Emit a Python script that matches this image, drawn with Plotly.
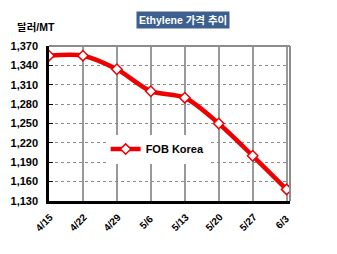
import plotly.graph_objects as go

dates = ["4/15", "4/22", "4/29", "5/6", "5/13", "5/20", "5/27", "6/3"]
fob_korea = [1355, 1355, 1334, 1300, 1290, 1250, 1200, 1148]
y_ticks = [1130, 1160, 1190, 1220, 1250, 1280, 1310, 1340, 1370]

FONT = "Liberation Sans, Arial, Noto Sans CJK KR, sans-serif"

fig = go.Figure()
fig.add_trace(go.Scatter(
    x=dates, y=fob_korea, name="FOB Korea", mode="lines+markers",
    line=dict(color="#ee0000", width=4.5, shape="spline", smoothing=0.8),
    marker=dict(symbol="diamond", size=8, color="white",
                line=dict(color="#ee0000", width=1.5)),
))

annotations = [
    dict(text="Ethylene 가격 추이", xref="paper", yref="paper",
         x=0.558, y=1.168, xanchor="center", yanchor="middle",
         showarrow=False, bgcolor="#3d5f8e",
         font=dict(color="white", size=10.5, family=FONT, weight="bold"),
         borderpad=2),
    dict(text="달러/MT", xref="paper", yref="paper",
         x=-0.141, y=1.123, xanchor="left", yanchor="middle",
         showarrow=False, font=dict(size=10.5, family=FONT, weight="bold")),
]
for d in dates:
    annotations.append(dict(
        text=d, x=d, xref="x", y=0, yref="paper", textangle=-45,
        xanchor="center", yanchor="middle", xshift=-5, yshift=-21,
        showarrow=False, font=dict(size=10, family=FONT, weight="bold")))

fig.update_layout(
    width=337, height=254,
    margin=dict(l=49, r=47, t=46, b=53),
    paper_bgcolor="white", plot_bgcolor="white",
    font=dict(family=FONT, size=11, color="black", weight="bold"),
    showlegend=True,
    legend=dict(x=0.235, y=0.335, xanchor="left", yanchor="middle",
                bgcolor="white", font=dict(size=11, family=FONT, weight="bold"),
                itemwidth=30),
    xaxis=dict(type="category", range=[0, 7.1], showgrid=True,
               gridcolor="#999999", gridwidth=1.5, showticklabels=False,
               ticks="", showline=True, linecolor="black",
               linewidth=2.5, mirror=False, zeroline=False),
    yaxis=dict(range=[1130, 1370], tickvals=y_ticks,
               ticktext=[f"{v:,}" for v in y_ticks],
               showgrid=True, gridcolor="#8c8c8c", gridwidth=1.2,
               griddash="dot", ticks="inside", ticklen=4, tickcolor="black",
               showline=True, linecolor="black", linewidth=2.5,
               ticklabelstandoff=6,
               zeroline=False, tickfont=dict(size=11, family=FONT, weight="bold")),
    shapes=[
        dict(type="line", xref="paper", yref="paper", x0=0, x1=1, y0=1, y1=1,
             line=dict(color="#8c8c8c", width=2)),
        dict(type="line", xref="paper", yref="paper", x0=1, x1=1, y0=0, y1=1,
             line=dict(color="#8c8c8c", width=2)),
    ],
    annotations=annotations,
)

fig.write_html("out.html")
